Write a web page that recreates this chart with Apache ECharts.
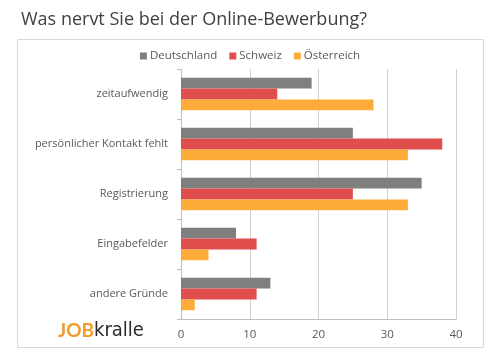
<!DOCTYPE html>
<html><head><meta charset="utf-8">
<script src="https://cdn.jsdelivr.net/npm/echarts@6/dist/echarts.min.js"></script>
<style>html,body{margin:0;padding:0;background:#fff}#c{width:500px;height:361px}</style>
</head><body><div id="c"></div>
<script>
const categories = ['zeitaufwendig', 'persönlicher Kontakt fehlt', 'Registrierung', 'Eingabefelder', 'andere Gründe'];
const seriesNames = ['Deutschland', 'Schweiz', 'Österreich'];
const deutschland = [19, 25, 35, 8, 13];
const schweiz = [14, 38, 25, 11, 11];
const oesterreich = [28, 33, 33, 4, 2];
const xTicks = [0, 10, 20, 30, 40];
const colors = ['#7f7f7f', '#e04d4d', '#fdab39'];
const FONT = '"Open Sans", "Noto Sans", sans-serif';

const chart = echarts.init(document.getElementById('c'), null, {renderer: 'canvas'});
const values = [deutschland, schweiz, oesterreich];
chart.setOption({
  animation: false,
  textStyle: {fontFamily: FONT},
  title: {
    text: 'Was nervt Sie bei der Online-Bewerbung?',
    left: 16, top: 6,
    textStyle: {fontFamily: FONT, fontSize: 18, fontWeight: 'normal', color: '#404040'}
  },
  graphic: [
    {type: 'rect', shape: {x: 17.5, y: 39.5, width: 466, height: 308}, style: {fill: 'none', stroke: '#d9d9d9', lineWidth: 1}, z: -1},
    {type: 'text', left: 58, top: 321, style: {
      text: '{o|JOB}{k|kralle}',
      rich: {
        o: {fontFamily: 'Lato, sans-serif', fontSize: 19, fontWeight: 'bold', fill: '#f39b2b'},
        k: {fontFamily: '"Liberation Sans Narrow", "DejaVu Sans Condensed", sans-serif', fontSize: 20, fill: '#2b2b2b'}
      }
    }}
  ],
  legend: {
    top: 45, left: 'center',
    itemWidth: 7, itemHeight: 7, itemGap: 12,
    icon: 'rect',
    textStyle: {fontFamily: FONT, fontSize: 11.5, color: '#595959', padding: [0, 0, 0, -2]},
    data: seriesNames
  },
  grid: {left: 181, right: 44, top: 69, bottom: 42},
  xAxis: {
    type: 'value', min: 0, max: 40, interval: 10,
    axisLine: {show: true, lineStyle: {color: '#bfbfbf'}},
    axisTick: {show: false},
    splitLine: {show: true, lineStyle: {color: '#d0d0d0'}},
    axisLabel: {fontFamily: FONT, fontSize: 11.5, color: '#595959', margin: 10,
      formatter: v => xTicks.includes(v) ? String(v) : ''}
  },
  yAxis: {
    type: 'category', inverse: true, data: categories,
    axisLine: {show: true, lineStyle: {color: '#bfbfbf'}},
    axisTick: {show: true, length: 4, lineStyle: {color: '#bfbfbf'}},
    axisLabel: {fontFamily: FONT, fontSize: 11, color: '#595959', margin: 13}
  },
  series: seriesNames.map((n, i) => ({
    name: n, type: 'bar', data: values[i],
    barGap: '0%', barCategoryGap: '35%',
    itemStyle: {color: colors[i]}
  }))
});
</script></body></html>
